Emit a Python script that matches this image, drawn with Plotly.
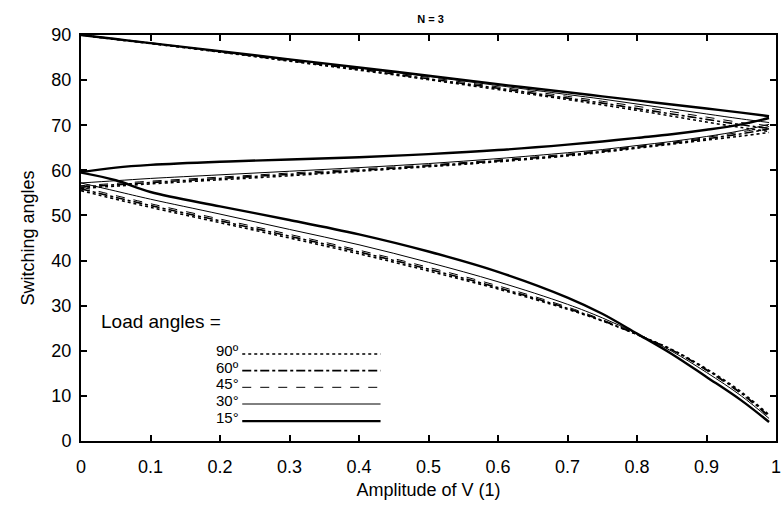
import plotly.graph_objects as go

# ---- data ----
amplitude = [0, 0.05, 0.1, 0.2, 0.3, 0.4, 0.5, 0.6, 0.7, 0.75, 0.8, 0.85, 0.9, 0.95, 0.99]

load_angles = ["90º", "60º", "45°", "30°", "15°"]

alpha1_90 = [55.5, 53.6, 51.8, 48.4, 45.0, 41.5, 37.7, 33.7, 29.2, 26.6, 23.6, 20.3, 16.0, 10.9, 5.8]
alpha1_60 = [55.9, 54.0, 52.2, 48.8, 45.4, 41.9, 38.1, 34.0, 29.4, 26.7, 23.6, 20.2, 15.8, 10.6, 5.5]
alpha1_45 = [56.3, 54.4, 52.6, 49.2, 45.8, 42.3, 38.5, 34.4, 29.7, 26.9, 23.7, 20.2, 15.6, 10.4, 5.3]
alpha1_30 = [57.2, 55.4, 53.6, 50.3, 46.9, 43.5, 39.6, 35.3, 30.3, 27.3, 23.8, 19.9, 15.2, 10.0, 5.0]
alpha1_15 = [59.5, 57.8, 55.2, 52.0, 49.0, 45.8, 42.0, 37.5, 31.8, 28.2, 23.8, 19.3, 14.2, 9.0, 4.2]

alpha2_90 = [56.0, 56.5, 57.0, 57.9, 58.8, 59.8, 60.8, 61.9, 63.2, 64.0, 64.9, 65.8, 66.7, 67.6, 68.4]
alpha2_60 = [56.3, 56.8, 57.3, 58.2, 59.1, 60.0, 61.0, 62.1, 63.4, 64.2, 65.1, 66.0, 67.0, 68.1, 69.2]
alpha2_45 = [56.6, 57.1, 57.6, 58.5, 59.4, 60.3, 61.2, 62.3, 63.6, 64.4, 65.3, 66.2, 67.3, 68.5, 69.7]
alpha2_30 = [57.2, 57.7, 58.2, 59.0, 59.8, 60.6, 61.5, 62.6, 63.9, 64.6, 65.5, 66.4, 67.5, 68.8, 70.2]
alpha2_15 = [59.6, 60.6, 61.2, 61.9, 62.4, 62.9, 63.6, 64.5, 65.7, 66.4, 67.2, 68.0, 69.0, 70.2, 71.6]

alpha3_90 = [90, 89.0, 88.1, 86.2, 84.2, 82.2, 80.1, 77.9, 75.7, 74.5, 73.3, 72.0, 70.7, 69.5, 68.6]
alpha3_60 = [90, 89.1, 88.2, 86.3, 84.3, 82.4, 80.3, 78.2, 76.0, 74.9, 73.7, 72.5, 71.3, 70.1, 69.3]
alpha3_45 = [90, 89.1, 88.2, 86.4, 84.5, 82.6, 80.6, 78.5, 76.4, 75.3, 74.2, 73.0, 71.8, 70.6, 69.9]
alpha3_30 = [90, 89.1, 88.2, 86.4, 84.6, 82.7, 80.8, 78.8, 76.8, 75.8, 74.7, 73.6, 72.5, 71.4, 70.6]
alpha3_15 = [90, 89.1, 88.2, 86.4, 84.6, 82.8, 81.0, 79.1, 77.3, 76.4, 75.5, 74.6, 73.7, 72.8, 72.0]

x_ticks = [0, 0.1, 0.2, 0.3, 0.4, 0.5, 0.6, 0.7, 0.8, 0.9, 1]
y_ticks = [0, 10, 20, 30, 40, 50, 60, 70, 80, 90]

series = {
    "90º": (alpha1_90, alpha2_90, alpha3_90),
    "60º": (alpha1_60, alpha2_60, alpha3_60),
    "45°": (alpha1_45, alpha2_45, alpha3_45),
    "30°": (alpha1_30, alpha2_30, alpha3_30),
    "15°": (alpha1_15, alpha2_15, alpha3_15),
}

styles = {
    "90º": dict(color="black", width=1.6, dash="dot"),
    "60º": dict(color="black", width=1.6, dash="dashdot"),
    "45°": dict(color="black", width=1.0, dash="dash"),
    "30°": dict(color="black", width=1.0, dash="solid"),
    "15°": dict(color="black", width=2.4, dash="solid"),
}

FONT = "Liberation Sans, Arial, Helvetica, sans-serif"

fig = go.Figure()
for name in load_angles:
    for arr in series[name]:
        fig.add_trace(go.Scatter(
            x=amplitude, y=arr, mode="lines", line=styles[name],
            line_shape="spline", showlegend=False, hoverinfo="skip",
        ))

# custom legend inside plot
leg_y = [19.3, 15.6, 11.9, 8.2, 4.4]
for name, yy in zip(load_angles, leg_y):
    fig.add_shape(type="line", xref="x", yref="y", x0=0.232, x1=0.431, y0=yy, y1=yy,
                  line=styles[name])
    fig.add_annotation(xref="x", yref="y", x=0.229, y=yy + 0.8, text=name,
                       showarrow=False, xanchor="right", yanchor="middle",
                       borderpad=0,
                       font=dict(family=FONT, size=15, color="black"))
fig.add_annotation(xref="x", yref="y", x=0.026, y=26.5, text="Load angles =",
                   showarrow=False, xanchor="left", yanchor="middle",
                   font=dict(family=FONT, size=19, color="black"))

fig.update_layout(
    width=783, height=508,
    margin=dict(l=81, r=2, t=35, b=67),
    paper_bgcolor="white", plot_bgcolor="white",
    font=dict(family=FONT, size=18, color="black"),
    title=dict(text="<b>N = 3</b>", x=0.55, xanchor="center", y=0.962, yanchor="middle",
               font=dict(family=FONT, size=11, color="black")),
)
fig.update_xaxes(
    range=[0, 1], tickvals=x_ticks, ticktext=[str(v) for v in x_ticks],
    showgrid=False, zeroline=False, showline=True, linecolor="black", linewidth=2,
    mirror="ticks", ticks="inside", ticklen=6, tickwidth=1.5, tickcolor="black",
    ticklabelstandoff=8, ticklabeloverflow="allow",
    title=dict(text="Amplitude of V (1)", standoff=8, font=dict(size=18)),
    tickfont=dict(size=18),
)
fig.update_yaxes(
    range=[0, 90], tickvals=y_ticks,
    showgrid=False, zeroline=False, showline=True, linecolor="black", linewidth=2,
    mirror="ticks", ticks="inside", ticklen=6, tickwidth=1.5, tickcolor="black",
    ticklabelstandoff=4,
    title=dict(text="Switching angles", standoff=12, font=dict(size=18)),
    tickfont=dict(size=18),
)

fig.write_html("out.html")
